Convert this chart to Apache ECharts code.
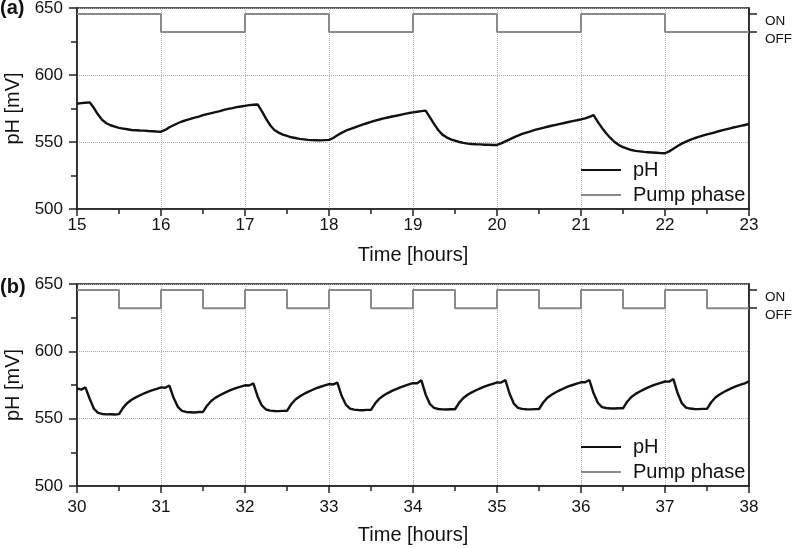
<!DOCTYPE html>
<html>
<head>
<meta charset="utf-8">
<script src="https://cdn.jsdelivr.net/npm/echarts@6/dist/echarts.min.js"></script>
<style>
body { margin: 0; background: #fff; }
#chart { width: 796px; height: 548px; }
</style>
</head>
<body>
<div id="chart"></div>
<script>
// pump levels on the pH scale (drawn against the right ON/OFF axis)
const ON_LEVEL = 645.5;
const OFF_LEVEL = 632;

// panel (a): pH sampled every 0.05 h from 15 h
const phStartA = 15;
const phStepA = 0.05;
const phValuesA = [
    578.5, 579.0, 579.3, 579.6, 575.5, 570.5, 566.5, 564.0, 562.5, 561.5, 560.5, 560.0, 559.5, 559.0, 558.8, 558.6, 558.5, 558.2, 558.0, 557.8,
    557.7, 559.0, 561.0, 562.5, 564.0, 565.3, 566.3, 567.2, 568.2, 569.0, 570.0, 570.8, 571.6, 572.3, 573.0, 574.0, 574.7, 575.3, 576.0, 576.5,
    577.0, 577.5, 577.8, 578.0, 573.0, 567.5, 562.5, 559.0, 557.0, 555.5, 554.5, 553.5, 553.0, 552.3, 552.0, 551.6, 551.4, 551.3, 551.2, 551.4,
    551.6, 553.0, 555.0, 556.8, 558.4, 559.6, 560.8, 561.9, 563.0, 564.0, 565.0, 566.0, 566.8, 567.6, 568.3, 569.0, 569.6, 570.3, 571.0, 571.6,
    572.1, 572.6, 573.0, 573.4, 568.5, 563.5, 559.0, 555.5, 553.5, 552.0, 551.0, 550.0, 549.3, 548.8, 548.5, 548.3, 548.2, 548.0, 547.9, 547.8,
    547.8, 549.0, 550.5, 552.0, 553.5, 554.8, 556.0, 557.0, 558.0, 559.0, 559.8, 560.6, 561.4, 562.1, 562.8, 563.5, 564.2, 564.9, 565.6, 566.2,
    566.9, 567.6, 568.8, 570.0, 565.0, 560.5, 556.5, 553.0, 550.0, 547.8, 546.2, 545.0, 544.0, 543.4, 543.0, 542.6, 542.4, 542.2, 542.0, 541.7,
    541.6, 543.0, 545.0, 547.0, 548.8, 550.3, 551.6, 552.8, 553.8, 554.8, 555.7, 556.5, 557.3, 558.2, 559.0, 559.8, 560.6, 561.3, 562.0, 562.7,
    563.4
];
const pumpTimesA = [15, 16, 17, 18, 19, 20, 21, 22, 23];
const pumpStatesA = ['ON', 'OFF', 'ON', 'OFF', 'ON', 'OFF', 'ON', 'OFF', 'OFF'];

// panel (b): pH sampled every 0.05 h from 30 h
const phStartB = 30;
const phStepB = 0.05;
const phValuesB = [
    572.5, 571.6, 573.2, 565.0, 557.5, 554.3, 553.5, 553.2, 553.3, 553.1, 553.4, 558.2, 561.7, 564.0, 565.8, 567.4, 568.8, 570.1, 571.2, 572.2,
    573.2, 573.0, 574.6, 565.5, 558.8, 555.8, 555.0, 554.8, 554.6, 554.9, 555.0, 559.8, 563.3, 565.6, 567.4, 569.0, 570.4, 571.7, 572.8, 573.8,
    574.8, 574.6, 576.2, 566.5, 559.8, 556.8, 556.0, 555.7, 555.6, 555.8, 555.8, 560.7, 564.2, 566.5, 568.3, 569.9, 571.3, 572.6, 573.7, 574.7,
    575.7, 575.4, 576.8, 567.0, 560.5, 557.5, 556.7, 556.4, 556.3, 556.5, 556.5, 561.4, 564.9, 567.2, 569.0, 570.6, 572.0, 573.3, 574.4, 575.4,
    576.4, 576.3, 578.5, 568.0, 561.0, 558.0, 557.2, 556.9, 556.8, 557.0, 557.0, 561.9, 565.4, 567.7, 569.5, 571.1, 572.5, 573.8, 574.9, 575.9,
    576.9, 576.8, 578.7, 568.5, 561.2, 558.0, 557.3, 557.0, 556.9, 557.1, 557.1, 562.0, 565.5, 567.8, 569.6, 571.2, 572.6, 573.9, 575.0, 576.0,
    577.0, 577.0, 578.7, 568.8, 561.8, 558.6, 557.9, 557.6, 557.5, 557.7, 557.7, 562.6, 566.1, 568.4, 570.2, 571.8, 573.2, 574.5, 575.6, 576.6,
    577.6, 577.5, 579.4, 569.0, 561.5, 558.2, 557.5, 557.2, 557.1, 557.3, 557.3, 562.2, 565.7, 568.0, 569.8, 571.4, 572.8, 574.1, 575.2, 576.2,
    577.8
];
const pumpTimesB = [30, 30.5, 31, 31.5, 32, 32.5, 33, 33.5, 34, 34.5, 35, 35.5, 36, 36.5, 37, 37.5, 38];
const pumpStatesB = ['ON', 'OFF', 'ON', 'OFF', 'ON', 'OFF', 'ON', 'OFF', 'ON', 'OFF', 'ON', 'OFF', 'ON', 'OFF', 'ON', 'OFF', 'OFF'];

const yTicks = [500, 550, 600, 650];

const FONT = "'Liberation Sans', Arial, sans-serif";
const AXIS_COLOR = '#222';
const PH_COLOR = '#111';
const PUMP_COLOR = '#8a8a8a';

function phPairs(start, step, values) {
    return values.map((v, i) => [+(start + i * step).toFixed(2), v]);
}
function pumpPairs(times, states) {
    return times.map((t, i) => [t, states[i] === 'ON' ? ON_LEVEL : OFF_LEVEL]);
}

function xAxisFor(idx, min, max, labelMargin, nameGap) {
    return {
        type: 'value', gridIndex: idx, min: min, max: max, interval: 1,
        name: 'Time [hours]', nameLocation: 'middle', nameGap: nameGap,
        nameTextStyle: { fontSize: 20, color: '#111', fontFamily: FONT },
        axisLine: { lineStyle: { color: AXIS_COLOR, width: 1.5 } },
        axisTick: { show: true, inside: false, length: 7, lineStyle: { color: AXIS_COLOR, width: 1.5 } },
        minorTick: { show: true, splitNumber: 2, length: 5, lineStyle: { color: AXIS_COLOR, width: 1.5 } },
        axisLabel: { fontSize: 17, color: '#111', margin: labelMargin, fontFamily: FONT },
        splitLine: { show: true, lineStyle: { color: '#aaa', type: 'dotted', width: 1 } }
    };
}
function yAxisFor(idx) {
    return {
        type: 'value', gridIndex: idx, min: yTicks[0], max: yTicks[yTicks.length - 1], interval: 50,
        name: 'pH [mV]', nameLocation: 'middle', nameGap: 52,
        nameTextStyle: { fontSize: 20, color: '#111', fontFamily: FONT },
        axisLine: { show: true, lineStyle: { color: AXIS_COLOR, width: 1.5 } },
        axisTick: { show: true, inside: false, length: 8, lineStyle: { color: AXIS_COLOR, width: 1.5 } },
        minorTick: { show: true, splitNumber: 2, length: 6, lineStyle: { color: AXIS_COLOR, width: 1.5 } },
        axisLabel: { fontSize: 17, color: '#111', margin: 14, fontFamily: FONT },
        splitLine: { show: true, lineStyle: { color: '#aaa', type: 'dotted', width: 1 } }
    };
}
function pumpAxisFor(idx) {
    return {
        type: 'value', gridIndex: idx, position: 'right', min: 500, max: 650,
        axisLine: { show: true, lineStyle: { color: AXIS_COLOR, width: 1.5 } },
        axisTick: { show: true, inside: false, length: 8, customValues: [OFF_LEVEL, ON_LEVEL], lineStyle: { color: AXIS_COLOR, width: 1.5 } },
        axisLabel: {
            fontSize: 13.5, color: '#111', margin: 16, fontFamily: FONT,
            customValues: [OFF_LEVEL, ON_LEVEL],
            formatter: v => (Math.abs(v - ON_LEVEL) < 1 ? 'ON' : 'OFF'),
            verticalAlign: 'top'
        },
        splitLine: { show: false }
    };
}
function legendFor(top) {
    return {
        top: top, left: 576, orient: 'vertical', itemGap: 5,
        icon: 'rect', itemWidth: 40, itemHeight: 2,
        data: ['pH', 'Pump phase'],
        textStyle: { fontSize: 20, color: '#111', fontFamily: FONT, padding: [0, 0, 0, 7] },
        selectedMode: false
    };
}

let myChart = echarts.init(document.getElementById('chart'), null, { renderer: 'canvas' });
let option = {
    animation: false,
    backgroundColor: '#fff',
    title: [
        { text: '(a)', left: 0, top: -2, padding: 0, textStyle: { fontSize: 20, fontWeight: 'bold', color: '#111', fontFamily: FONT } },
        { text: '(b)', left: 0, top: 277, padding: 0, textStyle: { fontSize: 20, fontWeight: 'bold', color: '#111', fontFamily: FONT } }
    ],
    grid: [
        { left: 77, top: 8, width: 672, height: 201, show: true, borderColor: AXIS_COLOR, borderWidth: 1.5, outerBoundsMode: 'none', containLabel: false },
        { left: 77, top: 284, width: 672, height: 202, show: true, borderColor: AXIS_COLOR, borderWidth: 1.5, outerBoundsMode: 'none', containLabel: false }
    ],
    legend: [legendFor(155), legendFor(432)],
    xAxis: [xAxisFor(0, 15, 23, 8, 36), xAxisFor(1, 30, 38, 13, 39)],
    yAxis: [yAxisFor(0), pumpAxisFor(0), yAxisFor(1), pumpAxisFor(1)],
    series: [
        {
            name: 'pH', type: 'line', xAxisIndex: 0, yAxisIndex: 0, showSymbol: false,
            lineStyle: { color: PH_COLOR, width: 2.4 }, itemStyle: { color: PH_COLOR },
            data: phPairs(phStartA, phStepA, phValuesA)
        },
        {
            name: 'Pump phase', type: 'line', xAxisIndex: 0, yAxisIndex: 1, showSymbol: false, step: 'end',
            lineStyle: { color: PUMP_COLOR, width: 2 }, itemStyle: { color: PUMP_COLOR },
            data: pumpPairs(pumpTimesA, pumpStatesA)
        },
        {
            name: 'pH', type: 'line', xAxisIndex: 1, yAxisIndex: 2, showSymbol: false,
            lineStyle: { color: PH_COLOR, width: 2.4 }, itemStyle: { color: PH_COLOR },
            data: phPairs(phStartB, phStepB, phValuesB)
        },
        {
            name: 'Pump phase', type: 'line', xAxisIndex: 1, yAxisIndex: 3, showSymbol: false, step: 'end',
            lineStyle: { color: PUMP_COLOR, width: 2 }, itemStyle: { color: PUMP_COLOR },
            data: pumpPairs(pumpTimesB, pumpStatesB)
        }
    ]
};
myChart.setOption(option);
</script>
</body>
</html>
